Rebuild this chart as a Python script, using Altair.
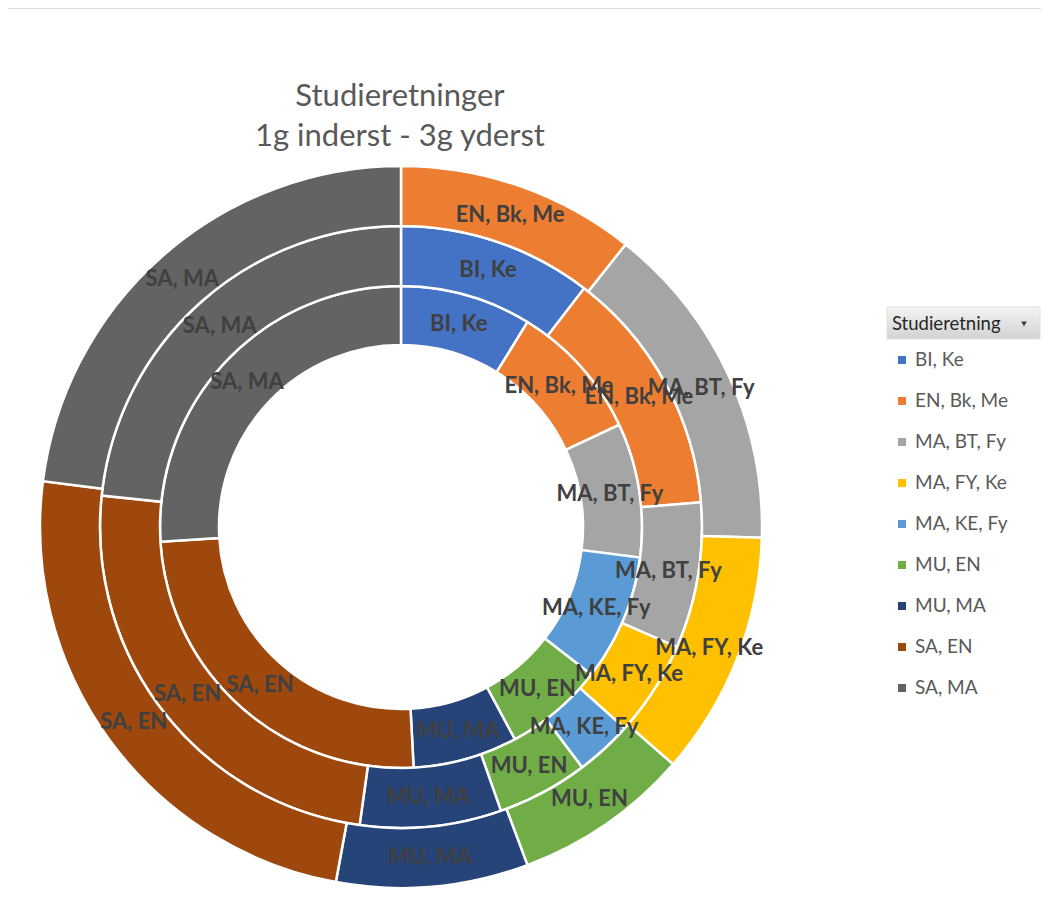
import math
import altair as alt
import pandas as pd

# ---- data ----
categories = ["BI, Ke", "EN, Bk, Me", "MA, BT, Fy", "MA, FY, Ke", "MA, KE, Fy",
              "MU, EN", "MU, MA", "SA, EN", "SA, MA"]
colors = ["#4472C4", "#ED7D31", "#A5A5A5", "#FFC000", "#5B9BD5",
          "#70AD47", "#264478", "#9E480E", "#636363"]
rings = ["1g", "2g", "3g"]
# share of each ring (in degrees of the full circle)
share_1g = [31.7, 33.2, 32.4, 0.0, 30.5, 24.0, 25.2, 89.5, 93.5]
share_2g = [37.5, 47.8, 28.2, 18.5, 11.0, 17.6, 27.3, 88.1, 84.0]
share_3g = [0.0, 38.5, 53.2, 39.4, 0.0, 28.4, 30.9, 86.9, 82.7]
title_lines = ["Studieretninger", "1g inderst - 3g yderst"]
legend_title = "Studieretning"

rows = []
for ring, shares in zip(rings, [share_1g, share_2g, share_3g]):
    for i, (cat, v) in enumerate(zip(categories, shares)):
        rows.append({"ring": ring, "category": cat, "order": i, "value": v})
df = pd.DataFrame(rows)
legend_df = pd.DataFrame({"category": categories})
one = pd.DataFrame({"k": [0]})

# ---- layout (chart pixel coordinates) ----
CX, CY = 393, 519
radii = {"1g": (182, 241), "2g": (241, 301), "3g": (301, 361)}
LABEL_FONT = "Lato"

theta_scale = alt.Scale(domain=[0, 360], range=[0, 2 * math.pi])
color_scale = alt.Scale(domain=categories, range=colors)

base = alt.Chart(df).transform_stack(
    stack="value", as_=["start", "end"], groupby=["ring"],
    sort=[alt.SortField("order", order="ascending")]
).transform_calculate(mid="(datum.start + datum.end) / 2")

arc_layers = []
label_layers = []
for ring in rings:
    r0, r1 = radii[ring]
    sub = base.transform_filter(alt.datum.ring == ring).transform_filter(alt.datum.value > 0)
    arc_layers.append(
        sub.mark_arc(radius=r1, radius2=r0, stroke="white", strokeWidth=2.5).encode(
            theta=alt.Theta("start:Q", scale=theta_scale, stack=None),
            theta2="end:Q",
            color=alt.Color("category:N", scale=color_scale, legend=None),
            x=alt.value(CX), y=alt.value(CY),
        )
    )
    label_layers.append(
        sub.mark_text(radius=(r0 + r1) / 2, font=LABEL_FONT, fontSize=22,
                      fontWeight="bold", color="#404040",
                      align="center", baseline="middle").encode(
            theta=alt.Theta("mid:Q", scale=theta_scale, stack=None),
            text="category:N",
            x=alt.value(CX), y=alt.value(CY),
        )
    )

title1 = alt.Chart(one).mark_text(font="Lato", fontSize=31, color="#595959",
                                  align="center", baseline="middle",
                                  text=title_lines[0]).encode(
    x=alt.value(392), y=alt.value(89))
title2 = alt.Chart(one).mark_text(font="Lato", fontSize=31, color="#595959",
                                  align="center", baseline="middle",
                                  text=title_lines[1]).encode(
    x=alt.value(392), y=alt.value(129))

top_line = alt.Chart(one).mark_rule(color="#D9D9D9", strokeWidth=2).encode(
    x=alt.value(-4), x2=alt.value(1033), y=alt.value(0))

button = alt.Chart(one).mark_rect(
    color=alt.LinearGradient(
        gradient="linear", x1=0, x2=0, y1=0, y2=1,
        stops=[alt.GradientStop(color="#F4F4F4", offset=0),
               alt.GradientStop(color="#D2D2D2", offset=1)]),
    stroke="#E0E0E0", strokeWidth=1).encode(
    x=alt.value(879), x2=alt.value(1032), y=alt.value(299), y2=alt.value(331))
button_text = alt.Chart(one).mark_text(font="Lato", fontSize=18.5, color="#262626",
                                       align="left", baseline="middle",
                                       text=legend_title).encode(
    x=alt.value(884), y=alt.value(316))
button_arrow = alt.Chart(one).mark_point(shape="triangle-down", filled=True, size=32,
                                         color="#404040", opacity=1).encode(
    x=alt.value(1016), y=alt.value(316))

leg_y = alt.Y("category:N", axis=None,
              scale=alt.Scale(type="point", domain=categories, range=[352, 680], padding=0))
legend_sq = alt.Chart(legend_df).mark_square(size=64, opacity=1).encode(
    y=leg_y, x=alt.value(894),
    color=alt.Color("category:N", scale=color_scale, legend=None))
legend_txt = alt.Chart(legend_df).mark_text(font="Lato", fontSize=19, color="#595959",
                                            align="left", baseline="middle").encode(
    y=leg_y, x=alt.value(907), text="category:N")

chart = alt.layer(
    top_line, *arc_layers, *label_layers, title1, title2,
    button, button_text, button_arrow, legend_sq, legend_txt
).properties(
    width=1033, height=882, padding=0, autosize=alt.AutoSizeParams(type="none")
).configure_view(stroke=None)

chart.save("out.html", embed_options={"renderer": "svg", "actions": False})
